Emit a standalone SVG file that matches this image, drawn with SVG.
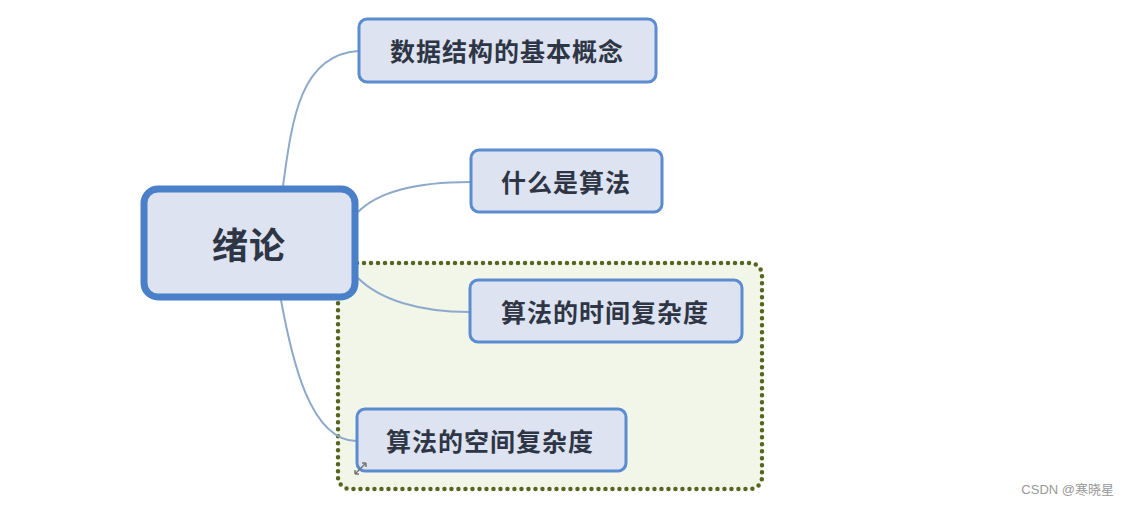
<svg xmlns="http://www.w3.org/2000/svg" width="1131" height="506" viewBox="0 0 1131 506">
<style>
.node rect{fill:#dde3f0;stroke:#5b8ccf;stroke-width:3}
.node text{font-family:"Noto Sans CJK SC","Noto Sans",sans-serif;font-weight:bold;fill:#2e3646;text-anchor:middle;dominant-baseline:central;letter-spacing:1px}
.conn path{fill:none;stroke:#8eaacb;stroke-width:2}
</style>
<rect width="1131" height="506" fill="#ffffff"/>
<g id="group-box">
<rect x="338" y="263" width="424" height="226" rx="12" fill="#f1f6e8" stroke="#56661e" stroke-width="4.5" stroke-dasharray="0 7" stroke-linecap="round"/>
</g>
<g class="conn" id="connectors">
<path d="M283,186 C292,120 300,55 358,51"/>
<path d="M358,212 C380,190 420,182 470,182"/>
<path d="M358,278 C380,300 420,312 469,312"/>
<path d="M281,300 C292,360 310,440 356,441"/>
</g>
<g class="node" id="root">
<rect x="144" y="189" width="211" height="108" rx="14" style="stroke:#4a7fc9;stroke-width:7"/>
<text x="249" y="243" font-size="36">绪论</text>
</g>
<g class="node" id="n1">
<rect x="359" y="19" width="297" height="63" rx="8"/>
<text x="507" y="50" font-size="25">数据结构的基本概念</text>
</g>
<g class="node" id="n2">
<rect x="471" y="150" width="191" height="62" rx="8"/>
<text x="566" y="181" font-size="25">什么是算法</text>
</g>
<g class="node" id="n3">
<rect x="470" y="280" width="272" height="62" rx="8"/>
<text x="605" y="311" font-size="25">算法的时间复杂度</text>
</g>
<g class="node" id="n4">
<rect x="357" y="409" width="269" height="62" rx="8"/>
<text x="490" y="440" font-size="25">算法的空间复杂度</text>
</g>
<g id="resize-icon" stroke="#777" stroke-width="1.5" fill="none">
<path d="M355,474 L366,463 M355,474 l0,-4 M355,474 l4,0 M366,463 l-4,0 M366,463 l0,4"/>
</g>
<text x="1114" y="494" font-family="'Liberation Sans','Noto Sans CJK SC',sans-serif" font-size="13" fill="#999" text-anchor="end">CSDN @寒晓星</text>
</svg>
